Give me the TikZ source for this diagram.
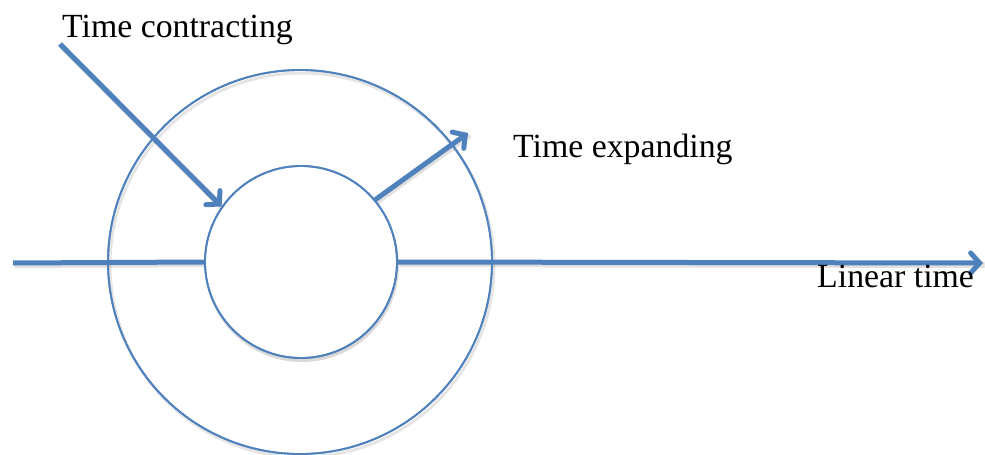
\documentclass[tikz,border=0pt]{standalone}
\usepackage{fontspec}
\setmainfont{Liberation Serif}
\usetikzlibrary{arrows.meta}
\definecolor{lineblue}{HTML}{4F81BD}
\tikzset{
  ring/.style={circle, draw=lineblue, line width=1.8pt, inner sep=0pt},
  thickline/.style={draw=lineblue, line width=5pt},
  shade line/.style={draw=black, opacity=0.12, line width=6pt},
  tip/.style={-{Straight Barb[length=9pt,width=20pt,line cap=round]}},
  label/.style={anchor=base west, inner sep=0pt, font=\fontsize{33.8}{38}\selectfont, text=black}
}
\begin{document}
\begin{tikzpicture}[x=1pt,y=-1pt]
\useasboundingbox (0,0) rectangle (985,455);
% shadow of circles
\draw[black, opacity=0.10, line width=3pt] (302,265) circle (192);
\fill[black, opacity=0.15] (302,265) circle (97);
% nodes
\node[ring, minimum size=384pt] (outer) at (300,262) {};
\coordinate (leftend) at (13,263);
\coordinate (rightend) at (983,263);
\coordinate (cstart) at (60,44);
\coordinate (etip) at (468,133);
\node[ring, fill=white, minimum size=192pt] (inner) at (301,262) {};
% thick lines with subtle shadows
\begin{scope}[transform canvas={shift={(1.5pt,-2pt)}}]
\draw[shade line] (leftend) -- (inner.west);
\draw[shade line] (inner.east) -- (rightend);
\draw[shade line] (cstart) -- (inner.145);
\draw[shade line] (inner.40) -- (etip);
\end{scope}
\draw[thickline] (leftend) -- (inner.west);
\draw[thickline, tip] (inner.east) -- (rightend);
\draw[thickline, tip] (cstart) -- (inner.145);
\draw[thickline, tip] (inner.40) -- (etip);
% redraw circles on top
\node[ring, minimum size=384pt] at (outer.center) {};
\node[ring, minimum size=192pt] at (inner.center) {};
% labels
\node[label] (tc) at (62,37) {Time contracting};
\node[label] (te) at (513,157) {Time expanding};
\node[label] (lt) at (817,287) {Linear time};
\end{tikzpicture}
\end{document}
